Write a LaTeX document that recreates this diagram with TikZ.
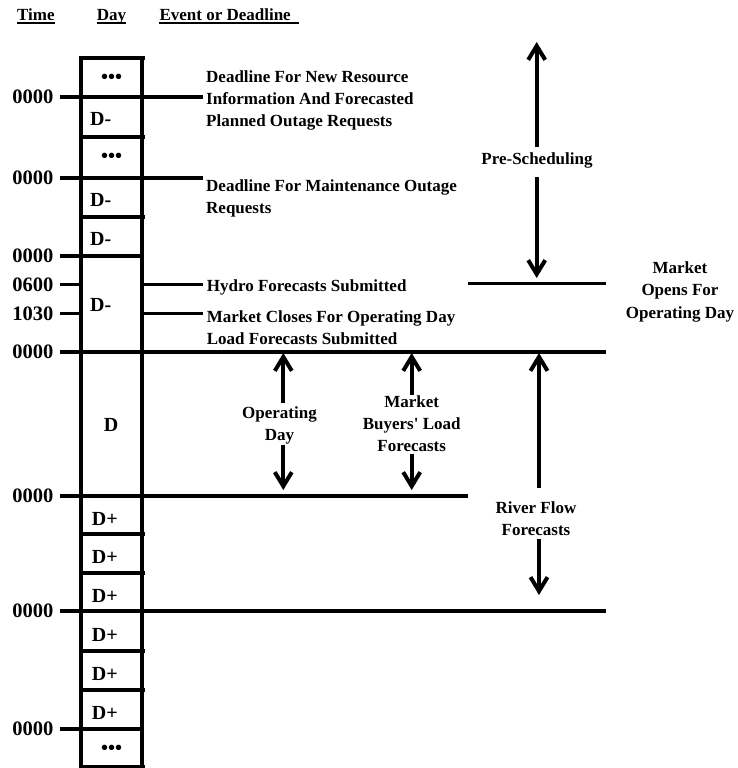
\documentclass[tikz,border=0pt]{standalone}
\usepackage{fontspec}
\setmainfont{Liberation Serif}[Ligatures=TeXOff]
\usetikzlibrary{arrows.meta,calc}
\begin{document}
\begin{tikzpicture}[x=1pt,y=-1pt,
  hl/.style={line width=3.6pt},
  arr/.style={line width=4pt,-{Straight Barb[length=14pt,width=17pt]}},
  tlab/.style={anchor=east,inner xsep=6.5pt,inner ysep=0pt,font=\fontsize{20.5}{24}\selectfont\bfseries},
  dlab/.style={anchor=base west,inner sep=0pt,font=\fontsize{20}{24}\selectfont\bfseries},
  dots/.style={inner sep=0pt,font=\fontsize{20}{24}\selectfont\bfseries},
  ev/.style={anchor=north west,inner sep=0pt,align=left,font=\fontsize{17}{22}\selectfont\bfseries},
  cl/.style={anchor=north,inner sep=0pt,align=center,font=\fontsize{17}{22.3}\selectfont\bfseries},
  hd/.style={anchor=base west,inner sep=0pt,font=\fontsize{17}{20}\selectfont\bfseries},
  ul/.style={line width=2pt}]
\useasboundingbox (0,0) rectangle (737,768);

% header
\node[hd] (hTime) at (17,20.7) {Time};
\node[hd] (hDay) at (96.7,20.7) {Day};
\node[hd] (hEv) at (159.3,20.7) {Event or Deadline};
\draw[ul] ([yshift=-2pt]hTime.base west) -- ([yshift=-2pt]hTime.base east);
\draw[ul] ([yshift=-2pt]hDay.base west) -- ([yshift=-2pt]hDay.base east);
\draw[ul] ([yshift=-2pt]hEv.base west) -- ([yshift=-2pt,xshift=8pt]hEv.base east);

% day column
\coordinate (bTL) at (80.7,58);
\coordinate (bBR) at (142,767);
\draw[hl] (bTL) rectangle (bBR);
\foreach \yy in {58,137,217,534,573,651,690,767}
  \draw[hl] (80.7,\yy) -- (144.5,\yy);

% time labels and lines
\node[tlab] (t1) at (60,97) {0000};
\node[tlab] (t2) at (60,178) {0000};
\node[tlab] (t3) at (60,256) {0000};
\node[tlab] (t4) at (60,284.3) {0600};
\node[tlab] (t5) at (60,313.3) {1030};
\node[tlab] (t6) at (60,351.7) {0000};
\node[tlab] (t7) at (60,496) {0000};
\node[tlab] (t8) at (60,611) {0000};
\node[tlab] (t9) at (60,729) {0000};

\draw[hl] (t1.east) -- +(143,0);
\draw[hl] (t2.east) -- +(143,0);
\draw[hl] (t3.east) -- (t3.east -| bBR);
\draw[hl] (t4.east) -- (t4.east -| bTL);
\draw[hl] (t4.east -| bBR) -- +(61,0);
\draw[hl] (t5.east) -- (t5.east -| bTL);
\draw[hl] (t5.east -| bBR) -- +(61,0);
\draw[hl] (t6.east) -- +(545.7,0);
\draw[hl] (t7.east) -- +(407.7,0);
\draw[hl] (t8.east) -- +(545.7,0);
\draw[hl] (t9.east) -- (t9.east -| bBR);
\coordinate (moL) at (468,283.3);
\draw[hl] (moL) -- +(137.7,0);

% day labels
\node[dots] (d1) at (111.7,79) {•••};
\node[dlab] (d2) at (90,125) {D-};
\node[dots] (d3) at (111.7,158.3) {•••};
\node[dlab] (d4) at (90,206.7) {D-};
\node[dlab] (d5) at (90,245) {D-};
\node[dlab] (d6) at (90,311.7) {D-};
\node[dlab,anchor=base] (d7) at (111.2,431.7) {D};
\node[dlab] (p1) at (91.7,525) {D+};
\node[dlab] (p2) at (91.7,563.3) {D+};
\node[dlab] (p3) at (91.7,602.7) {D+};
\node[dlab] (p4) at (91.7,641.7) {D+};
\node[dlab] (p5) at (91.7,680) {D+};
\node[dlab] (p6) at (91.7,719) {D+};
\node[dots] (d8) at (111.7,750) {•••};

% event texts
\node[ev] (e1) at (206,70.8) {Deadline For New Resource\\Information And Forecasted\\Planned Outage Requests};
\node[ev] (e2) at (206,179.2) {Deadline For Maintenance Outage\\Requests};
\node[ev] (e3) at (206.7,279.7) {Hydro Forecasts Submitted};
\node[ev] (e4) at (206.7,310.4) {Market Closes For Operating Day\\Load Forecasts Submitted};

% period labels
\node[cl] (pre) at (537,153) {Pre-Scheduling};
\node[cl] (mo) at (680,261.5) {Market\\Opens For\\Operating Day};
\node[cl] (op) at (279.5,406.5) {Operating\\Day};
\node[cl] (mb) at (411.7,395) {Market\\Buyers' Load\\Forecasts};
\node[cl] (rf) at (536,501.5) {River Flow\\Forecasts};

% arrows
\coordinate (preTop) at (536.7,42);
\coordinate (preBot) at (536.7,278);
\coordinate (opTop) at (283.3,353);
\coordinate (opBot) at (283.3,490);
\coordinate (mbTop) at (411.7,353);
\coordinate (mbBot) at (411.7,490);
\coordinate (rfTop) at (539,353);
\coordinate (rfBot) at (539,595);

\draw[arr] ([yshift=6pt]preTop |- pre.north) -- (preTop);
\draw[arr] ([yshift=-8.5pt]preBot |- pre.south) -- (preBot);
\draw[arr] ([yshift=3.5pt]opTop |- op.north) -- (opTop);
\draw[arr] (opBot |- op.south) -- (opBot);
\draw[arr] (mbTop |- mb.north) -- (mbTop);
\draw[arr] ([yshift=-2pt]mbBot |- mb.south) -- (mbBot);
\draw[arr] ([yshift=13.5pt]rfTop |- rf.north) -- (rfTop);
\draw[arr] ([yshift=-2.7pt]rfBot |- rf.south) -- (rfBot);
\end{tikzpicture}
\end{document}
